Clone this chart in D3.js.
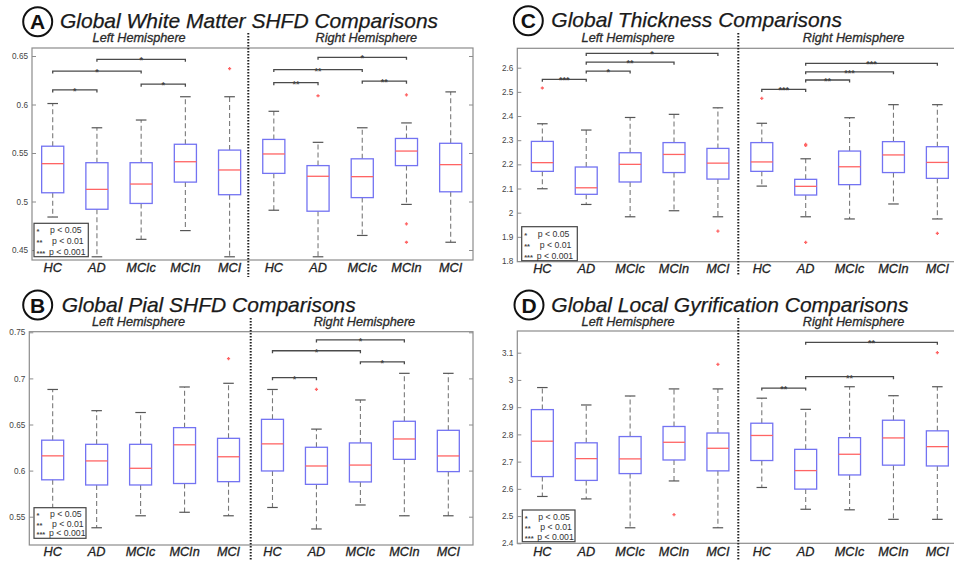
<!DOCTYPE html>
<html><head><meta charset="utf-8">
<script src="https://cdn.jsdelivr.net/npm/d3@7"></script>
<style>body{margin:0;background:#fff}svg text{font-family:"Liberation Sans",Arial,sans-serif}</style>
</head><body>
<svg id="c" width="954" height="564"></svg>
<script>
// ---------- data ----------
const groups = ["HC","AD","MCIc","MCIn","MCI","HC","AD","MCIc","MCIn","MCI"];
const hemispheres = ["Left Hemisphere","Right Hemisphere"];
const legendStars = ["*","**","***"];
const legendTexts = ["p < 0.05","p < 0.01","p < 0.001"];

// box rows: [lower whisker, Q1, median, Q3, upper whisker], positions 1..10
const ticksA = [0.45,0.5,0.55,0.6,0.65];
const boxA = [
  [0.484,0.509,0.539,0.557,0.601],
  [0.443,0.492,0.5125,0.540,0.576],
  [0.461,0.498,0.518,0.540,0.584],
  [0.470,0.520,0.541,0.559,0.608],
  [0.443,0.507,0.5325,0.553,0.608],
  [0.491,0.529,0.549,0.564,0.593],
  [0.443,0.490,0.526,0.537,0.561],
  [0.465,0.504,0.5256,0.544,0.576],
  [0.497,0.537,0.552,0.565,0.581],
  [0.458,0.510,0.538,0.560,0.613]
];
const outA = [[5,0.637],[7,0.609],[9,0.610],[9,0.477],[9,0.458]];
const sigA = [[1,2,0.615,"*"],[3,4,0.621,"*"],[1,3,0.6345,"*"],[2,4,0.6466,"*"],
              [6,7,0.6225,"**"],[8,9,0.624,"**"],[6,8,0.636,"**"],[7,9,0.6486,"*"]];

const ticksB = [0.55,0.6,0.65,0.7,0.75];
const boxB = [
  [0.553,0.590,0.616,0.633,0.688],
  [0.538,0.5844,0.6105,0.6285,0.665],
  [0.551,0.5844,0.6025,0.6285,0.663],
  [0.5548,0.586,0.628,0.6466,0.6907],
  [0.551,0.588,0.615,0.635,0.6947],
  [0.560,0.5996,0.629,0.6556,0.688],
  [0.5367,0.5851,0.605,0.6253,0.645],
  [0.5627,0.5877,0.606,0.630,0.6766],
  [0.551,0.6122,0.6343,0.6535,0.7055],
  [0.551,0.5989,0.6159,0.6437,0.7055]
];
const outB = [[5,0.7214],[7,0.688]];
const sigB = [[6,7,0.7008,"*"],[8,9,0.718,"*"],[6,8,0.730,"*"],[7,9,0.7417,"*"]];

const ticksC = [1.8,1.9,2,2.1,2.2,2.3,2.4,2.5,2.6];
const boxC = [
  [2.099,2.171,2.207,2.295,2.368],
  [2.034,2.076,2.103,2.189,2.342],
  [1.983,2.127,2.200,2.248,2.394],
  [2.008,2.166,2.241,2.290,2.407],
  [1.983,2.139,2.205,2.266,2.434],
  [2.110,2.171,2.210,2.290,2.370],
  [1.983,2.073,2.109,2.138,2.223],
  [1.974,2.116,2.190,2.255,2.393],
  [2.036,2.166,2.239,2.294,2.447],
  [1.974,2.142,2.208,2.273,2.447]
];
const outC = [[1,2.516],[5,1.924],[6,2.473],[7,2.283],[7,2.278],[7,1.877],[10,1.914]];
const sigC = [[1,2,2.552,"***"],[2,3,2.586,"*"],[2,4,2.623,"**"],[2,5,2.659,"*"],
              [6,7,2.510,"***"],[7,8,2.549,"**"],[7,9,2.583,"***"],[7,10,2.618,"***"]];

const ticksD = [2.4,2.5,2.6,2.7,2.8,2.9,3,3.1];
const boxD = [
  [2.572,2.645,2.775,2.891,2.972],
  [2.563,2.631,2.711,2.769,2.908],
  [2.457,2.656,2.710,2.792,2.941],
  [2.629,2.706,2.771,2.829,2.967],
  [2.457,2.666,2.749,2.805,2.967],
  [2.605,2.704,2.796,2.841,2.933],
  [2.525,2.599,2.667,2.745,2.892],
  [2.523,2.651,2.727,2.788,2.975],
  [2.488,2.687,2.787,2.852,2.942],
  [2.488,2.684,2.755,2.813,2.975]
];
const outD = [[4,2.505],[5,3.057],[10,3.1]];
const sigD = [[6,7,2.970,"**"],[7,9,3.012,"**"],[7,10,3.138,"**"]];

// ---------- layout ----------
const panels = [
  {letter:"A", title:"Global White Matter SHFD Comparisons", box:boxA, out:outA, sig:sigA, ticks:ticksA,
   fl:32, fr:473, ft:48, fb:260, xr:[30.6,472.8], yr:[250,56], div:248.3, dy:[33,277],
   cx:37.7, cy:21.7, tx:60, ty:27.5, hy:41.7, ly:272.3, leg:[34,223.3,54.3,33.4]},
  {letter:"B", title:"Global Pial SHFD Comparisons", box:boxB, out:outB, sig:sigB, ticks:ticksB,
   fl:29.3, fr:473, ft:331.7, fb:545, xr:[30.7,470.3], yr:[516.7,332.3], div:250.7, dy:[318,560],
   cx:37.7, cy:305, tx:61.7, ty:311.7, hy:326, ly:556, leg:[34,507.7,52,30.6]},
  {letter:"C", title:"Global Thickness Comparisons", box:boxC, out:outC, sig:sigC, ticks:ticksC,
   fl:517.3, fr:962, ft:48.3, fb:261.7, xr:[520.4,959.3], yr:[261,67.7], div:738.3, dy:[33,276],
   cx:528.3, cy:20.7, tx:551.3, ty:27.3, hy:41.7, ly:272.7, leg:[521.7,226.7,55.6,34]},
  {letter:"D", title:"Global Local Gyrification Comparisons", box:boxD, out:outD, sig:sigD, ticks:ticksD,
   fl:517.3, fr:962, ft:331, fb:543.3, xr:[520.4,959.3], yr:[543.3,352.7], div:738.3, dy:[318,560],
   cx:529, cy:305, tx:551.3, ty:311.7, hy:326, ly:556, leg:[522.3,510,52.7,31.7]}
];

const svg = d3.select("#c");
const BOX = "#7373f2", MED = "#ff6464", WH = "#7a7a7a", FR = "#8c8c8c";

panels.forEach(p => {
  const g = svg.append("g");
  const x = d3.scaleLinear().domain([0.5,10.5]).range(p.xr);
  const y = d3.scaleLinear().domain([p.ticks[0], p.ticks[p.ticks.length-1]]).range(p.yr);

  // title
  g.append("circle").attr("cx",p.cx).attr("cy",p.cy).attr("r",14.5)
    .attr("fill","none").attr("stroke","#111").attr("stroke-width",2);
  g.append("text").attr("x",p.cx).attr("y",p.cy+7.5).attr("text-anchor","middle")
    .attr("font-size",21).attr("font-weight","bold").attr("fill","#111").text(p.letter);
  g.append("text").attr("x",p.tx).attr("y",p.ty).attr("font-size",21).attr("font-style","italic")
    .attr("fill","#1a1a1a").attr("stroke","#1a1a1a").attr("stroke-width",0.25).text(p.title);

  // hemisphere labels
  g.append("text").attr("x",x(3)-2).attr("y",p.hy).attr("text-anchor","middle")
    .attr("font-size",12.7).attr("font-style","italic").attr("fill","#2a2a2a")
    .attr("stroke","#2a2a2a").attr("stroke-width",0.3).text(hemispheres[0]);
  g.append("text").attr("x",x(8)+4).attr("y",p.hy).attr("text-anchor","middle")
    .attr("font-size",12.7).attr("font-style","italic").attr("fill","#2a2a2a")
    .attr("stroke","#2a2a2a").attr("stroke-width",0.3).text(hemispheres[1]);

  // frame
  g.append("rect").attr("x",p.fl).attr("y",p.ft).attr("width",p.fr-p.fl).attr("height",p.fb-p.ft)
    .attr("fill","none").attr("stroke",FR).attr("stroke-width",1.2);

  // y axes (inside ticks both sides)
  const axL = g.append("g").attr("transform",`translate(${p.fl},0)`)
    .call(d3.axisLeft(y).tickValues(p.ticks).tickSize(-4).tickPadding(4).tickFormat(d=>String(d)));
  axL.select(".domain").remove();
  axL.selectAll("line").attr("stroke",FR);
  axL.selectAll("text").attr("font-size",8.2).attr("fill","#444")
    .style("font-family","'Liberation Sans',Arial,sans-serif");
  const axR = g.append("g").attr("transform",`translate(${p.fr},0)`)
    .call(d3.axisRight(y).tickValues(p.ticks).tickSize(-4).tickFormat(""));
  axR.select(".domain").remove();
  axR.selectAll("line").attr("stroke",FR);

  // boxes
  const hw = (x(1.25)-x(0.75))/2;
  const cw = (x(1.12)-x(0.88))/2;
  p.box.forEach((b,i) => {
    const cx = x(i+1);
    const [lo,q1,md,q3,hi] = b;
    g.append("line").attr("x1",cx).attr("x2",cx).attr("y1",y(q3)).attr("y2",y(hi))
      .attr("stroke",WH).attr("stroke-width",1.1).attr("stroke-dasharray","5,3");
    g.append("line").attr("x1",cx).attr("x2",cx).attr("y1",y(q1)).attr("y2",y(lo))
      .attr("stroke",WH).attr("stroke-width",1.1).attr("stroke-dasharray","5,3");
    [lo,hi].forEach(v => g.append("line").attr("x1",cx-cw).attr("x2",cx+cw)
      .attr("y1",y(v)).attr("y2",y(v)).attr("stroke","#555").attr("stroke-width",1.2));
    g.append("rect").attr("x",cx-hw).attr("y",y(q3)).attr("width",2*hw).attr("height",y(q1)-y(q3))
      .attr("fill","none").attr("stroke",BOX).attr("stroke-width",1.3);
    g.append("line").attr("x1",cx-hw).attr("x2",cx+hw).attr("y1",y(md)).attr("y2",y(md))
      .attr("stroke",MED).attr("stroke-width",1.3);
  });

  // outliers
  p.out.forEach(([pos,v]) => {
    const cx = x(pos), cy = y(v);
    g.append("path").attr("d",`M${cx-1.6},${cy}H${cx+1.6}M${cx},${cy-1.6}V${cy+1.6}`)
      .attr("stroke",MED).attr("stroke-width",1.3);
  });

  // significance brackets
  p.sig.forEach(([a,b,v,lab]) => {
    const x1 = x(a), x2 = x(b), yy = y(v);
    g.append("path").attr("d",`M${x1},${yy+2.5}V${yy}H${x2}V${yy+2.5}`)
      .attr("fill","none").attr("stroke","#4a4a4a").attr("stroke-width",1.3);
    g.append("text").attr("x",(x1+x2)/2).attr("y",yy+4).attr("text-anchor","middle")
      .attr("font-size",9).attr("font-weight","bold").attr("fill","#444").text(lab);
  });

  // category labels
  groups.forEach((c,i) => {
    g.append("text").attr("x",x(i+1)).attr("y",p.ly).attr("text-anchor","middle")
      .attr("font-size",12.7).attr("font-style","italic").attr("fill","#222")
      .attr("stroke","#222").attr("stroke-width",0.3).text(c);
  });

  // legend
  const [lx,ly,lw,lh] = p.leg;
  g.append("rect").attr("x",lx).attr("y",ly).attr("width",lw).attr("height",lh)
    .attr("fill","#fff").attr("stroke","#444").attr("stroke-width",1.2);
  legendStars.forEach((s,k) => {
    const by = ly + lh*(0.3 + 0.32*k);
    g.append("text").attr("x",lx+2.5).attr("y",by+1).attr("font-size",7.5).attr("font-weight","bold").attr("fill","#444").text(s);
    g.append("text").attr("x",lx + [16,18,15][k]).attr("y",by).attr("font-size",8.7).attr("fill","#333").text(legendTexts[k]);
  });

  // divider
  g.append("line").attr("x1",p.div).attr("x2",p.div).attr("y1",p.dy[0]).attr("y2",p.dy[1])
    .attr("stroke","#222").attr("stroke-width",2).attr("stroke-dasharray","1.6,1.4");
});
</script>
</body></html>
